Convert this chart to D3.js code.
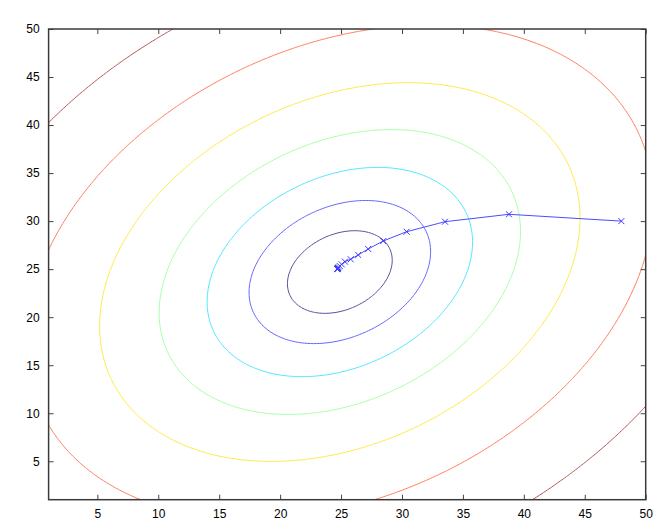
<!DOCTYPE html>
<html>
<head>
<meta charset="utf-8">
<script src="https://cdn.jsdelivr.net/npm/d3@7"></script>
<style>
  body { margin: 0; background: #fff; }
  text { font-family: "Liberation Sans", Arial, sans-serif; }
</style>
</head>
<body>
<svg id="chart" width="666" height="528"></svg>
<script>
///// *** DATA *** /////
// axis ranges and tick labels
var xDomain = [1, 50],
    yDomain = [1, 50],
    xTicks = [5, 10, 15, 20, 25, 30, 35, 40, 45, 50],
    yTicks = [5, 10, 15, 20, 25, 30, 35, 40, 45, 50];

var surfCenter = [24.9, 24.7],
    surfCross = 0.285;

// contour levels (inner to outer) and their colours
var levels = [17, 51, 109, 202, 357, 608, 1025],
    levelColors = ['#54549c', '#6666ff', '#52e6ff', '#a8ffa8', '#ffe94a', '#ff7f60', '#b55858'];

// descent path
var pathX = [48.0, 38.78, 33.53, 30.38, 28.46, 27.23, 26.41, 25.79, 25.32, 25.05, 24.9, 24.8, 24.75, 24.72, 24.7, 24.69, 24.69],
    pathY = [30.0, 30.71, 29.94, 28.9, 27.93, 27.1, 26.48, 26.03, 25.78, 25.5, 25.32, 25.2, 25.12, 25.06, 25.03, 25.01, 25.0];

///// *** LAYOUT *** /////
var svg = d3.select('#chart'),
    plotLeft = 48.6, plotRight = 645.7, plotTop = 29, plotBottom = 499.7;

var x = d3.scaleLinear().domain(xDomain).range([plotLeft, plotRight]),
    y = d3.scaleLinear().domain(yDomain).range([plotBottom, plotTop]);

svg.append('defs').append('clipPath').attr('id', 'plot-clip')
  .append('rect')
  .attr('x', plotLeft).attr('y', plotTop)
  .attr('width', plotRight - plotLeft).attr('height', plotBottom - plotTop);

///// *** CONTOURS *** /////
// sample the surface on a grid larger than the plot so rings close off-screen
var g0 = -16, step = 0.25, n = 333;
var values = new Array(n * n);
for (var j = 0; j < n; j++) {
  for (var i = 0; i < n; i++) {
    var u = g0 + i * step - surfCenter[0],
        v = g0 + j * step - surfCenter[1];
    values[j * n + i] = u * u + v * v - 2 * surfCross * u * v;
  }
}

var rings = d3.contours().size([n, n]).thresholds(levels)(values);

var toData = d3.geoTransform({
  point: function(gx, gy) {
    this.stream.point(x(g0 + (gx - 0.5) * step), y(g0 + (gy - 0.5) * step));
  }
});

svg.append('g')
  .attr('clip-path', 'url(#plot-clip)')
  .selectAll('path')
  .data(rings)
  .enter().append('path')
  .attr('d', d3.geoPath(toData))
  .attr('fill', 'none')
  .attr('stroke', function(d, i) { return levelColors[i]; })
  .attr('stroke-width', 1);

///// *** DESCENT PATH *** /////
var pts = pathX.map(function(d, i) { return [d, pathY[i]]; });

var line = d3.line()
  .x(function(d) { return x(d[0]); })
  .y(function(d) { return y(d[1]); });

var trail = svg.append('g').attr('clip-path', 'url(#plot-clip)');

trail.append('path')
  .datum(pts)
  .attr('d', line)
  .attr('fill', 'none')
  .attr('stroke', '#4c4cff')
  .attr('stroke-width', 1);

trail.selectAll('.mark')
  .data(pts)
  .enter().append('path')
  .attr('class', 'mark')
  .attr('d', function(d) {
    var cx = x(d[0]), cy = y(d[1]), s = 3;
    return 'M' + (cx - s) + ',' + (cy - s) + 'L' + (cx + s) + ',' + (cy + s) +
           'M' + (cx - s) + ',' + (cy + s) + 'L' + (cx + s) + ',' + (cy - s);
  })
  .attr('fill', 'none')
  .attr('stroke', '#3a3aff')
  .attr('stroke-width', 1);

///// *** AXES *** /////
function styleAxis(g, showText) {
  g.select('.domain').remove();
  g.selectAll('.tick line').attr('stroke', '#444');
  g.selectAll('.tick text')
    .attr('fill', '#000')
    .style('font-size', '12px')
    .style('display', showText ? null : 'none');
}

svg.append('g')
  .attr('transform', 'translate(0,' + plotBottom + ')')
  .call(d3.axisBottom(x).tickValues(xTicks).tickSizeInner(-5).tickSizeOuter(0).tickPadding(10))
  .call(styleAxis, true);

svg.append('g')
  .attr('transform', 'translate(0,' + plotTop + ')')
  .call(d3.axisTop(x).tickValues(xTicks).tickSizeInner(-5).tickSizeOuter(0))
  .call(styleAxis, false);

svg.append('g')
  .attr('transform', 'translate(' + plotLeft + ',0)')
  .call(d3.axisLeft(y).tickValues(yTicks).tickSizeInner(-5).tickSizeOuter(0).tickPadding(9))
  .call(styleAxis, true);

svg.append('g')
  .attr('transform', 'translate(' + plotRight + ',0)')
  .call(d3.axisRight(y).tickValues(yTicks).tickSizeInner(-5).tickSizeOuter(0))
  .call(styleAxis, false);

// box
svg.append('rect')
  .attr('x', plotLeft).attr('y', plotTop)
  .attr('width', plotRight - plotLeft).attr('height', plotBottom - plotTop)
  .attr('fill', 'none')
  .attr('stroke', '#3a3a3a')
  .attr('stroke-width', 1.5);
</script>
</body>
</html>
